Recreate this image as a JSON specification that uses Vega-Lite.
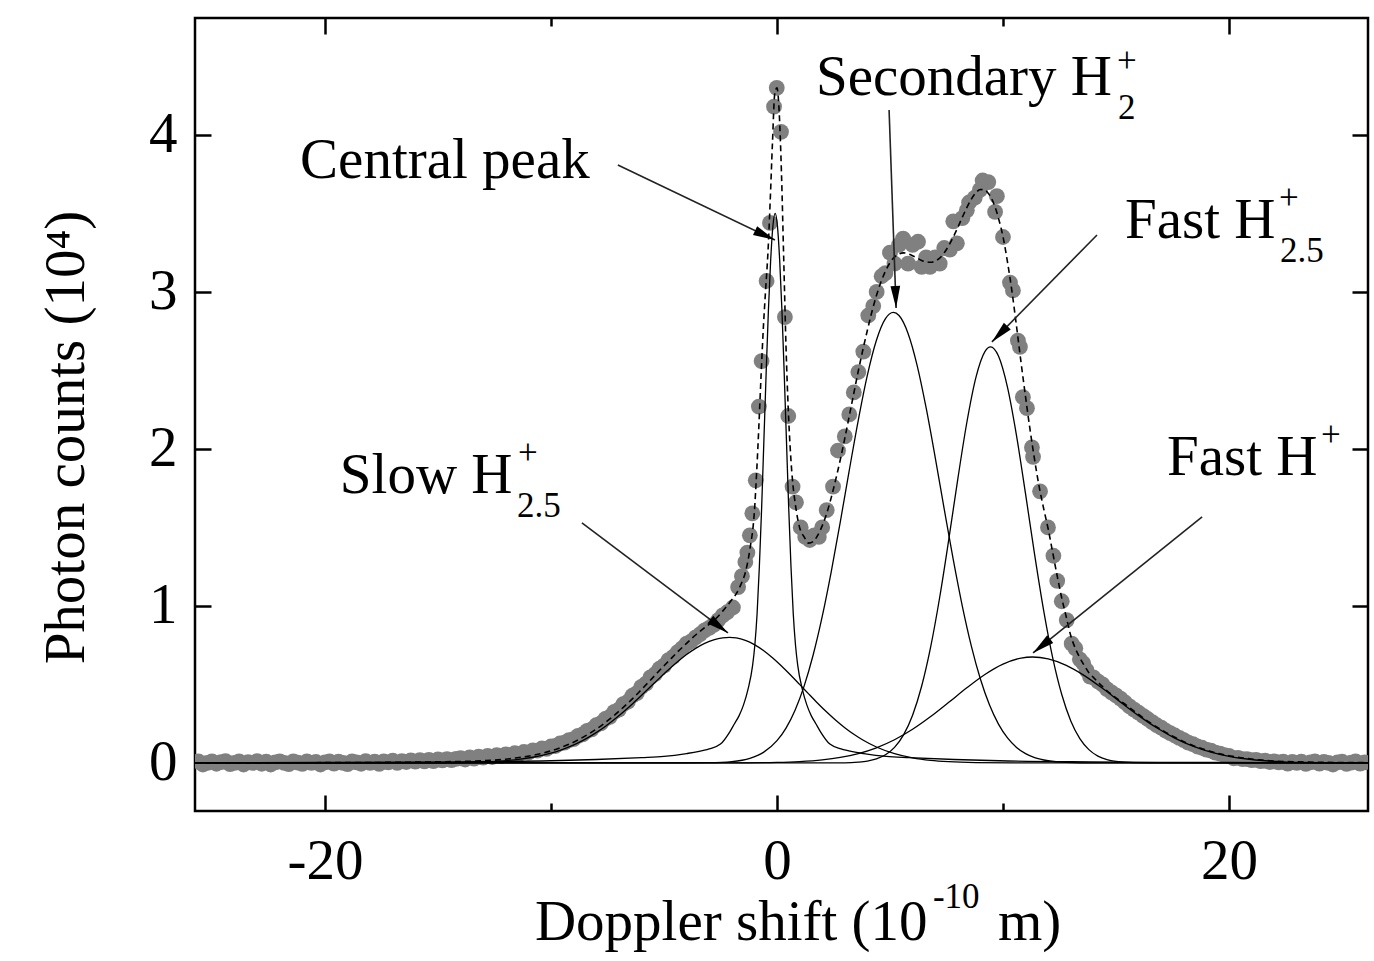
{
  "$schema": "https://vega.github.io/schema/vega-lite/v6.json",
  "width": 1173,
  "height": 793,
  "autosize": {"type": "none"},
  "padding": {"left": 195, "top": 18, "right": 6, "bottom": 150},
  "background": "white",
  "config": {
    "view": {"stroke": "#000", "strokeWidth": 2.5},
    "axis": {
      "domain": false, "grid": false,
      "labelFont": "Liberation Serif", "labelFontSize": 57, "labelColor": "#000",
      "titleFont": "Liberation Serif", "titleFontSize": 57, "titleFontWeight": "normal", "titleColor": "#000",
      "tickColor": "#000", "tickWidth": 2.5
    }
  },
  "datasets": {
    "pts": [
      {"x":-25.6,"y":0.01},{"x":-25.4,"y":-0.01},{"x":-25.2,"y":0.0},{"x":-25.0,"y":0.01},{"x":-24.8,"y":-0.005},{"x":-24.6,"y":0.005},{"x":-24.4,"y":0.012},{"x":-24.2,"y":-0.008},{"x":-24.0,"y":0.0},{"x":-23.8,"y":0.01},{"x":-23.6,"y":-0.01},{"x":-23.4,"y":0.005},{"x":-23.2,"y":0.0},{"x":-23.0,"y":0.012},{"x":-22.8,"y":-0.005},{"x":-22.6,"y":0.008},{"x":-22.4,"y":-0.01},{"x":-22.2,"y":0.004},{"x":-22.0,"y":0.01},{"x":-21.8,"y":0.0},{"x":-21.6,"y":-0.008},{"x":-21.4,"y":0.01},{"x":-21.2,"y":0.002},{"x":-21.0,"y":-0.006},{"x":-20.8,"y":0.01},{"x":-20.6,"y":0.0},{"x":-20.4,"y":0.006},{"x":-20.2,"y":-0.01},{"x":-20.0,"y":0.004},{"x":-19.8,"y":0.01},{"x":-19.6,"y":-0.004},{"x":-19.4,"y":0.008},{"x":-19.2,"y":0.0},{"x":-19.0,"y":-0.008},{"x":-18.8,"y":0.01},{"x":-18.6,"y":0.004},{"x":-18.4,"y":-0.005},{"x":-18.2,"y":0.012},{"x":-18.0,"y":0.0},{"x":-17.8,"y":0.008},{"x":-17.6,"y":-0.006},{"x":-17.4,"y":0.01},{"x":-17.2,"y":0.004},{"x":-17.0,"y":0.014},{"x":-16.8,"y":0.0},{"x":-16.6,"y":0.012},{"x":-16.4,"y":0.006},{"x":-16.2,"y":0.016},{"x":-16.0,"y":0.008},{"x":-15.8,"y":0.018},{"x":-15.6,"y":0.01},{"x":-15.4,"y":0.02},{"x":-15.2,"y":0.012},{"x":-15.0,"y":0.022},{"x":-14.8,"y":0.016},{"x":-14.6,"y":0.024},{"x":-14.4,"y":0.018},{"x":-14.2,"y":0.026},
      {"x":-14.0,"y":0.03},{"x":-13.8,"y":0.022},{"x":-13.6,"y":0.035},{"x":-13.4,"y":0.028},{"x":-13.2,"y":0.04},{"x":-13.0,"y":0.034},{"x":-12.8,"y":0.045},{"x":-12.6,"y":0.038},{"x":-12.4,"y":0.05},{"x":-12.2,"y":0.044},{"x":-12.0,"y":0.055},{"x":-11.8,"y":0.05},{"x":-11.6,"y":0.062},{"x":-11.4,"y":0.058},{"x":-11.2,"y":0.07},{"x":-11.0,"y":0.066},{"x":-10.8,"y":0.08},{"x":-10.6,"y":0.078},{"x":-10.4,"y":0.092},{"x":-10.2,"y":0.09},{"x":-10.0,"y":0.105},{"x":-9.8,"y":0.108},{"x":-9.6,"y":0.124},{"x":-9.4,"y":0.13},{"x":-9.2,"y":0.146},{"x":-9.0,"y":0.152},{"x":-8.8,"y":0.172},{"x":-8.6,"y":0.182},{"x":-8.4,"y":0.204},{"x":-8.2,"y":0.214},{"x":-8.0,"y":0.24},{"x":-7.8,"y":0.252},{"x":-7.6,"y":0.28},{"x":-7.4,"y":0.294},{"x":-7.2,"y":0.325},{"x":-7.0,"y":0.34},{"x":-6.8,"y":0.375},{"x":-6.6,"y":0.39},{"x":-6.4,"y":0.428},{"x":-6.2,"y":0.445},{"x":-6.0,"y":0.485},{"x":-5.8,"y":0.505},{"x":-5.6,"y":0.545},{"x":-5.4,"y":0.565},{"x":-5.2,"y":0.6},{"x":-5.0,"y":0.62},{"x":-4.8,"y":0.655},{"x":-4.6,"y":0.675},{"x":-4.4,"y":0.705},{"x":-4.2,"y":0.73},{"x":-4.0,"y":0.76},{"x":-3.8,"y":0.775},{"x":-3.6,"y":0.8},{"x":-3.4,"y":0.82},{"x":-3.2,"y":0.845},{"x":-3.0,"y":0.86},{"x":-2.8,"y":0.88},{"x":-2.6,"y":0.91},{"x":-2.4,"y":0.94},{"x":-2.2,"y":0.96},{"x":-1.95,"y":0.99},{"x":-1.72,"y":1.12},
      {"x":-1.55,"y":1.19},{"x":-1.4,"y":1.28},{"x":-1.31,"y":1.34},{"x":-1.2,"y":1.45},{"x":-1.09,"y":1.59},{"x":-0.94,"y":1.8},{"x":-0.8,"y":2.27},{"x":-0.68,"y":2.56},{"x":-0.46,"y":3.07},{"x":-0.31,"y":3.44},{"x":-0.13,"y":4.18},{"x":-0.01,"y":4.3},{"x":0.18,"y":4.02},{"x":0.35,"y":2.84},{"x":0.5,"y":2.21},{"x":0.69,"y":1.76},{"x":0.84,"y":1.66},{"x":1.05,"y":1.5},{"x":1.25,"y":1.44},{"x":1.45,"y":1.42},{"x":1.65,"y":1.45},{"x":1.85,"y":1.44},{"x":2.0,"y":1.5},{"x":2.2,"y":1.61},{"x":2.48,"y":1.76},{"x":2.7,"y":1.99},
      {"x":3.0,"y":2.08},{"x":3.2,"y":2.22},{"x":3.4,"y":2.36},{"x":3.6,"y":2.49},{"x":3.82,"y":2.62},{"x":4.04,"y":2.85},{"x":4.26,"y":2.91},{"x":4.41,"y":3.0},{"x":4.63,"y":3.1},{"x":4.8,"y":3.12},{"x":5.0,"y":3.25},{"x":5.2,"y":3.18},{"x":5.4,"y":3.3},{"x":5.58,"y":3.34},{"x":5.8,"y":3.18},{"x":6.0,"y":3.3},{"x":6.24,"y":3.32},{"x":6.4,"y":3.16},{"x":6.6,"y":3.22},{"x":6.77,"y":3.16},{"x":7.0,"y":3.22},{"x":7.2,"y":3.18},{"x":7.4,"y":3.28},{"x":7.65,"y":3.27},{"x":7.8,"y":3.45},{"x":7.96,"y":3.31},{"x":8.2,"y":3.47},{"x":8.4,"y":3.52},{"x":8.5,"y":3.57},{"x":8.75,"y":3.6},{"x":8.98,"y":3.65},{"x":9.1,"y":3.71},{"x":9.35,"y":3.7},{"x":9.65,"y":3.51},{"x":9.73,"y":3.61},{"x":10.0,"y":3.35},{"x":10.31,"y":3.06},{"x":10.44,"y":3.01},{"x":10.66,"y":2.69},{"x":10.75,"y":2.65},{"x":10.88,"y":2.33},{"x":11.06,"y":2.26},{"x":11.28,"y":2.01},{"x":11.33,"y":1.95},{"x":11.64,"y":1.73},{"x":11.99,"y":1.5},{"x":12.23,"y":1.32},
      {"x":12.4,"y":1.16},{"x":12.6,"y":1.03},{"x":12.82,"y":0.91},{"x":13.04,"y":0.76},{"x":13.2,"y":0.73},{"x":13.4,"y":0.66},{"x":13.55,"y":0.635},{"x":13.7,"y":0.59},{"x":13.85,"y":0.55},{"x":14.0,"y":0.545},{"x":14.2,"y":0.52},{"x":14.4,"y":0.5},{"x":14.6,"y":0.47},{"x":14.8,"y":0.45},{"x":15.0,"y":0.43},{"x":15.2,"y":0.41},{"x":15.4,"y":0.385},{"x":15.6,"y":0.36},{"x":15.8,"y":0.34},{"x":16.0,"y":0.32},{"x":16.2,"y":0.3},{"x":16.4,"y":0.28},{"x":16.6,"y":0.26},{"x":16.8,"y":0.24},{"x":17.0,"y":0.225},{"x":17.2,"y":0.205},{"x":17.4,"y":0.19},{"x":17.6,"y":0.175},{"x":17.8,"y":0.16},{"x":18.0,"y":0.146},{"x":18.2,"y":0.13},{"x":18.4,"y":0.12},{"x":18.6,"y":0.105},{"x":18.8,"y":0.097},{"x":19.0,"y":0.085},{"x":19.2,"y":0.078},{"x":19.4,"y":0.066},{"x":19.6,"y":0.06},{"x":19.8,"y":0.05},{"x":20.0,"y":0.045},{"x":20.2,"y":0.03},{"x":20.4,"y":0.032},{"x":20.6,"y":0.024},{"x":20.8,"y":0.025},{"x":21.0,"y":0.018},{"x":21.2,"y":0.02},{"x":21.4,"y":0.012},{"x":21.6,"y":0.014},{"x":21.8,"y":0.006},{"x":22.0,"y":0.01},{"x":22.2,"y":0.004},{"x":22.4,"y":0.008},{"x":22.6,"y":-0.004},{"x":22.8,"y":0.006},{"x":23.0,"y":0.0},{"x":23.2,"y":0.008},{"x":23.4,"y":-0.006},{"x":23.6,"y":0.004},{"x":23.8,"y":0.01},{"x":24.0,"y":-0.004},{"x":24.2,"y":0.006},{"x":24.4,"y":0.0},{"x":24.6,"y":-0.01},{"x":24.8,"y":0.004},{"x":25.0,"y":0.008},{"x":25.2,"y":-0.006},{"x":25.4,"y":0.002},{"x":25.6,"y":0.01},{"x":25.8,"y":-0.004},{"x":26.0,"y":0.004}
    ],
    "fit": [
      {"x":-25.75,"y":0.0},{"x":-20,"y":0.002},{"x":-16,"y":0.005},{"x":-15,"y":0.007},{"x":-14.0,"y":0.0095},{"x":-13.0,"y":0.014},{"x":-12.0,"y":0.024},{"x":-11.6,"y":0.031},{"x":-11.2,"y":0.039},{"x":-10.8,"y":0.049},{"x":-10.4,"y":0.061},{"x":-10.0,"y":0.077},{"x":-9.6,"y":0.097},{"x":-9.2,"y":0.119},{"x":-8.8,"y":0.147},{"x":-8.4,"y":0.179},{"x":-8.0,"y":0.215},{"x":-7.6,"y":0.257},{"x":-7.2,"y":0.303},{"x":-6.8,"y":0.354},{"x":-6.4,"y":0.408},{"x":-6.0,"y":0.467},{"x":-5.6,"y":0.527},{"x":-5.2,"y":0.589},{"x":-4.8,"y":0.648},{"x":-4.4,"y":0.707},{"x":-4.0,"y":0.762},{"x":-3.6,"y":0.815},{"x":-3.2,"y":0.862},{"x":-2.8,"y":0.906},{"x":-2.4,"y":0.967},{"x":-2.0,"y":1.039},{"x":-1.8,"y":1.078},{"x":-1.6,"y":1.136},{"x":-1.4,"y":1.213},{"x":-1.2,"y":1.36},{"x":-1.0,"y":1.6},{"x":-0.9,"y":1.85},{"x":-0.8,"y":2.15},{"x":-0.7,"y":2.48},{"x":-0.6,"y":2.78},{"x":-0.5,"y":3.02},{"x":-0.4,"y":3.25},{"x":-0.3,"y":3.58},{"x":-0.2,"y":3.95},{"x":-0.1,"y":4.26},{"x":0.0,"y":4.3},{"x":0.1,"y":4.14},{"x":0.2,"y":3.75},{"x":0.3,"y":3.2},{"x":0.4,"y":2.65},{"x":0.5,"y":2.25},{"x":0.6,"y":1.97},{"x":0.7,"y":1.78},{"x":0.8,"y":1.66},{"x":1.0,"y":1.5},{"x":1.2,"y":1.44},{"x":1.4,"y":1.4},{"x":1.6,"y":1.41},{"x":1.8,"y":1.45},{"x":2.0,"y":1.51},{"x":2.2,"y":1.59},{"x":2.4,"y":1.69},{"x":2.6,"y":1.806},{"x":2.8,"y":1.931},{"x":3.0,"y":2.067},{"x":3.2,"y":2.211},{"x":3.4,"y":2.355},{"x":3.6,"y":2.498},{"x":3.8,"y":2.632},{"x":4.0,"y":2.756},{"x":4.2,"y":2.874},{"x":4.4,"y":2.977},{"x":4.6,"y":3.063},{"x":4.8,"y":3.133},{"x":5.0,"y":3.186},{"x":5.2,"y":3.222},{"x":5.4,"y":3.242},{"x":5.6,"y":3.249},{"x":5.8,"y":3.243},{"x":6.0,"y":3.231},{"x":6.2,"y":3.216},{"x":6.4,"y":3.201},{"x":6.6,"y":3.192},{"x":6.8,"y":3.189},{"x":7.0,"y":3.197},{"x":7.2,"y":3.216},{"x":7.4,"y":3.25},{"x":7.6,"y":3.295},{"x":7.8,"y":3.35},{"x":8.0,"y":3.411},{"x":8.2,"y":3.476},{"x":8.4,"y":3.537},{"x":8.6,"y":3.591},{"x":8.8,"y":3.632},{"x":9.0,"y":3.653},{"x":9.2,"y":3.649},{"x":9.4,"y":3.618},{"x":9.6,"y":3.56},{"x":9.8,"y":3.47},{"x":10.0,"y":3.352},{"x":10.2,"y":3.19},{"x":10.4,"y":3.0},{"x":10.6,"y":2.78},{"x":10.8,"y":2.55},{"x":11.0,"y":2.33},{"x":11.2,"y":2.12},{"x":11.4,"y":1.93},{"x":11.6,"y":1.76},{"x":11.8,"y":1.62},{"x":12.0,"y":1.49},{"x":12.2,"y":1.34},{"x":12.4,"y":1.19},{"x":12.6,"y":1.05},{"x":12.8,"y":0.93},{"x":13.0,"y":0.81},{"x":13.2,"y":0.73},{"x":13.4,"y":0.67},{"x":13.6,"y":0.62},{"x":13.8,"y":0.575},{"x":14.0,"y":0.545},{"x":14.2,"y":0.515},{"x":14.4,"y":0.487},{"x":14.6,"y":0.46},{"x":14.8,"y":0.437},{"x":15.0,"y":0.415},{"x":15.2,"y":0.395},{"x":15.4,"y":0.374},{"x":15.6,"y":0.352},{"x":15.8,"y":0.33},{"x":16.0,"y":0.309},{"x":16.4,"y":0.266},{"x":16.8,"y":0.229},{"x":17.2,"y":0.195},{"x":17.6,"y":0.164},{"x":18.0,"y":0.135},{"x":18.4,"y":0.111},{"x":18.8,"y":0.091},{"x":19.2,"y":0.073},{"x":19.6,"y":0.058},{"x":20.0,"y":0.046},{"x":20.4,"y":0.036},{"x":20.8,"y":0.028},{"x":21.2,"y":0.022},{"x":21.6,"y":0.016},{"x":22.0,"y":0.012},{"x":23.0,"y":0.007},{"x":24.0,"y":0.004},{"x":26.15,"y":0.002}
    ],
    "comp": [
      {"comp":"central","x":-25.75,"y":0.0015},{"comp":"central","x":-20,"y":0.003},{"comp":"central","x":-14,"y":0.007},{"comp":"central","x":-10,"y":0.014},{"comp":"central","x":-8,"y":0.022},{"comp":"central","x":-6,"y":0.034},{"comp":"central","x":-5,"y":0.042},{"comp":"central","x":-4,"y":0.06},{"comp":"central","x":-3.5,"y":0.072},{"comp":"central","x":-3,"y":0.09},{"comp":"central","x":-2.5,"y":0.12},{"comp":"central","x":-2.08,"y":0.2},{"comp":"central","x":-1.88,"y":0.25},{"comp":"central","x":-1.68,"y":0.3},{"comp":"central","x":-1.48,"y":0.37},{"comp":"central","x":-1.28,"y":0.47},{"comp":"central","x":-1.08,"y":0.62},{"comp":"central","x":-0.98,"y":0.75},{"comp":"central","x":-0.88,"y":0.95},{"comp":"central","x":-0.78,"y":1.25},{"comp":"central","x":-0.68,"y":1.62},{"comp":"central","x":-0.58,"y":2.05},{"comp":"central","x":-0.48,"y":2.48},{"comp":"central","x":-0.38,"y":2.88},{"comp":"central","x":-0.28,"y":3.2},{"comp":"central","x":-0.18,"y":3.42},{"comp":"central","x":-0.08,"y":3.5},{"comp":"central","x":0.02,"y":3.42},{"comp":"central","x":0.12,"y":3.2},{"comp":"central","x":0.22,"y":2.88},{"comp":"central","x":0.32,"y":2.48},{"comp":"central","x":0.42,"y":2.05},{"comp":"central","x":0.52,"y":1.62},{"comp":"central","x":0.62,"y":1.25},{"comp":"central","x":0.72,"y":0.95},{"comp":"central","x":0.82,"y":0.75},{"comp":"central","x":0.92,"y":0.62},{"comp":"central","x":1.12,"y":0.47},{"comp":"central","x":1.32,"y":0.37},{"comp":"central","x":1.52,"y":0.3},{"comp":"central","x":1.72,"y":0.25},{"comp":"central","x":1.92,"y":0.2},{"comp":"central","x":2.34,"y":0.12},{"comp":"central","x":2.84,"y":0.09},{"comp":"central","x":3.34,"y":0.072},{"comp":"central","x":3.84,"y":0.06},{"comp":"central","x":4.84,"y":0.042},{"comp":"central","x":5.84,"y":0.034},{"comp":"central","x":7.84,"y":0.022},{"comp":"central","x":9.84,"y":0.014},{"comp":"central","x":13.84,"y":0.007},{"comp":"central","x":19.84,"y":0.003},{"comp":"central","x":26.15,"y":0.0015},
      {"comp":"slow","x":-25.75,"y":0},{"comp":"slow","x":-18,"y":0},{"comp":"slow","x":-16,"y":0.0003},{"comp":"slow","x":-15,"y":0.0009},{"comp":"slow","x":-14,"y":0.0025},{"comp":"slow","x":-13.2,"y":0.0052},{"comp":"slow","x":-12.4,"y":0.0105},{"comp":"slow","x":-11.6,"y":0.0201},{"comp":"slow","x":-10.8,"y":0.0364},{"comp":"slow","x":-10.0,"y":0.0626},{"comp":"slow","x":-9.6,"y":0.0806},{"comp":"slow","x":-9.2,"y":0.1022},{"comp":"slow","x":-8.8,"y":0.1281},{"comp":"slow","x":-8.4,"y":0.1583},{"comp":"slow","x":-8.0,"y":0.1932},{"comp":"slow","x":-7.6,"y":0.2327},{"comp":"slow","x":-7.2,"y":0.2767},{"comp":"slow","x":-6.8,"y":0.3247},{"comp":"slow","x":-6.4,"y":0.3762},{"comp":"slow","x":-6.0,"y":0.43},{"comp":"slow","x":-5.6,"y":0.4852},{"comp":"slow","x":-5.2,"y":0.5405},{"comp":"slow","x":-4.8,"y":0.5941},{"comp":"slow","x":-4.4,"y":0.6446},{"comp":"slow","x":-4.0,"y":0.6904},{"comp":"slow","x":-3.6,"y":0.7298},{"comp":"slow","x":-3.2,"y":0.7614},{"comp":"slow","x":-2.8,"y":0.7842},{"comp":"slow","x":-2.4,"y":0.7971},{"comp":"slow","x":-2.1,"y":0.8},{"comp":"slow","x":-1.8,"y":0.7965},{"comp":"slow","x":-1.4,"y":0.7811},{"comp":"slow","x":-1.0,"y":0.7541},{"comp":"slow","x":-0.6,"y":0.7168},{"comp":"slow","x":-0.2,"y":0.6707},{"comp":"slow","x":0.2,"y":0.6179},{"comp":"slow","x":0.6,"y":0.5604},{"comp":"slow","x":1.0,"y":0.5004},{"comp":"slow","x":1.4,"y":0.4399},{"comp":"slow","x":1.8,"y":0.3806},{"comp":"slow","x":2.2,"y":0.3243},{"comp":"slow","x":2.6,"y":0.2721},{"comp":"slow","x":3.0,"y":0.2247},{"comp":"slow","x":3.4,"y":0.1827},{"comp":"slow","x":3.8,"y":0.1462},{"comp":"slow","x":4.4,"y":0.1017},{"comp":"slow","x":5.2,"y":0.0593},{"comp":"slow","x":6.0,"y":0.0325},{"comp":"slow","x":6.8,"y":0.0167},{"comp":"slow","x":7.6,"y":0.0081},{"comp":"slow","x":8.8,"y":0.0024},{"comp":"slow","x":10.4,"y":0.0004},{"comp":"slow","x":26.15,"y":0},
      {"comp":"secondary","x":-25.75,"y":0},{"comp":"secondary","x":-4,"y":0.0002},{"comp":"secondary","x":-3,"y":0.0015},{"comp":"secondary","x":-2,"y":0.0088},{"comp":"secondary","x":-1.2,"y":0.0297},{"comp":"secondary","x":-0.6,"y":0.0675},{"comp":"secondary","x":0.0,"y":0.1419},{"comp":"secondary","x":0.4,"y":0.2223},{"comp":"secondary","x":0.8,"y":0.336},{"comp":"secondary","x":1.2,"y":0.4894},{"comp":"secondary","x":1.6,"y":0.6877},{"comp":"secondary","x":2.0,"y":0.9319},{"comp":"secondary","x":2.4,"y":1.2177},{"comp":"secondary","x":2.8,"y":1.5346},{"comp":"secondary","x":3.2,"y":1.8649},{"comp":"secondary","x":3.6,"y":2.1858},{"comp":"secondary","x":4.0,"y":2.4705},{"comp":"secondary","x":4.4,"y":2.6926},{"comp":"secondary","x":4.8,"y":2.8304},{"comp":"secondary","x":5.15,"y":2.87},{"comp":"secondary","x":5.4,"y":2.8497},{"comp":"secondary","x":5.8,"y":2.7357},{"comp":"secondary","x":6.2,"y":2.5328},{"comp":"secondary","x":6.6,"y":2.2613},{"comp":"secondary","x":7.0,"y":1.947},{"comp":"secondary","x":7.4,"y":1.6167},{"comp":"secondary","x":7.8,"y":1.2947},{"comp":"secondary","x":8.2,"y":0.9996},{"comp":"secondary","x":8.6,"y":0.7445},{"comp":"secondary","x":9.0,"y":0.5347},{"comp":"secondary","x":9.4,"y":0.3702},{"comp":"secondary","x":9.8,"y":0.2474},{"comp":"secondary","x":10.2,"y":0.1593},{"comp":"secondary","x":10.6,"y":0.099},{"comp":"secondary","x":11.0,"y":0.0594},{"comp":"secondary","x":11.4,"y":0.0342},{"comp":"secondary","x":12.0,"y":0.0141},{"comp":"secondary","x":12.8,"y":0.0038},{"comp":"secondary","x":14,"y":0.0003},{"comp":"secondary","x":26.15,"y":0},
      {"comp":"fast25","x":-25.75,"y":0},{"comp":"fast25","x":3.0,"y":0.001},{"comp":"fast25","x":3.6,"y":0.0053},{"comp":"fast25","x":4.0,"y":0.012},{"comp":"fast25","x":4.4,"y":0.0257},{"comp":"fast25","x":4.8,"y":0.052},{"comp":"fast25","x":5.2,"y":0.0993},{"comp":"fast25","x":5.6,"y":0.1789},{"comp":"fast25","x":6.0,"y":0.3045},{"comp":"fast25","x":6.4,"y":0.4884},{"comp":"fast25","x":6.8,"y":0.7391},{"comp":"fast25","x":7.2,"y":1.0555},{"comp":"fast25","x":7.6,"y":1.4223},{"comp":"fast25","x":8.0,"y":1.8081},{"comp":"fast25","x":8.4,"y":2.1685},{"comp":"fast25","x":8.8,"y":2.4542},{"comp":"fast25","x":9.2,"y":2.6201},{"comp":"fast25","x":9.45,"y":2.65},{"comp":"fast25","x":9.8,"y":2.5917},{"comp":"fast25","x":10.2,"y":2.3924},{"comp":"fast25","x":10.6,"y":2.0837},{"comp":"fast25","x":11.0,"y":1.7122},{"comp":"fast25","x":11.4,"y":1.3274},{"comp":"fast25","x":11.8,"y":0.971},{"comp":"fast25","x":12.2,"y":0.6699},{"comp":"fast25","x":12.6,"y":0.4362},{"comp":"fast25","x":13.0,"y":0.2679},{"comp":"fast25","x":13.4,"y":0.1553},{"comp":"fast25","x":13.8,"y":0.0851},{"comp":"fast25","x":14.2,"y":0.0438},{"comp":"fast25","x":14.6,"y":0.0213},{"comp":"fast25","x":15.0,"y":0.0098},{"comp":"fast25","x":15.8,"y":0.0017},{"comp":"fast25","x":17,"y":0},{"comp":"fast25","x":26.15,"y":0},
      {"comp":"fastH","x":-25.75,"y":0},{"comp":"fastH","x":-2,"y":0.0005},{"comp":"fastH","x":0.0,"y":0.0037},{"comp":"fastH","x":1.0,"y":0.0089},{"comp":"fastH","x":2.0,"y":0.0198},{"comp":"fastH","x":2.8,"y":0.0354},{"comp":"fastH","x":3.6,"y":0.06},{"comp":"fastH","x":4.4,"y":0.0967},{"comp":"fastH","x":5.2,"y":0.1478},{"comp":"fastH","x":6.0,"y":0.2144},{"comp":"fastH","x":6.8,"y":0.2954},{"comp":"fastH","x":7.6,"y":0.386},{"comp":"fastH","x":8.4,"y":0.4788},{"comp":"fastH","x":9.2,"y":0.5638},{"comp":"fastH","x":10.0,"y":0.63},{"comp":"fastH","x":10.8,"y":0.6682},{"comp":"fastH","x":11.3,"y":0.675},{"comp":"fastH","x":12.0,"y":0.6631},{"comp":"fastH","x":12.8,"y":0.6218},{"comp":"fastH","x":13.6,"y":0.5565},{"comp":"fastH","x":14.4,"y":0.4753},{"comp":"fastH","x":15.2,"y":0.3875},{"comp":"fastH","x":16.0,"y":0.3015},{"comp":"fastH","x":16.8,"y":0.2238},{"comp":"fastH","x":17.6,"y":0.1586},{"comp":"fastH","x":18.4,"y":0.1073},{"comp":"fastH","x":19.2,"y":0.0692},{"comp":"fastH","x":20.0,"y":0.0426},{"comp":"fastH","x":20.8,"y":0.0251},{"comp":"fastH","x":21.6,"y":0.014},{"comp":"fastH","x":22.4,"y":0.0075},{"comp":"fastH","x":23.2,"y":0.0038},{"comp":"fastH","x":24,"y":0.0019},{"comp":"fastH","x":26.15,"y":0.0003}
    ],
    "arrows": [
      {"x":-7.04,"y":3.809,"x2":-0.09,"y2":3.331,"ang":115.5},
      {"x":4.96,"y":4.159,"x2":5.27,"y2":2.898,"ang":178},
      {"x":14.16,"y":3.363,"x2":9.51,"y2":2.682,"ang":224.5},
      {"x":18.81,"y":1.567,"x2":11.33,"y2":0.701,"ang":231.2},
      {"x":-8.63,"y":1.529,"x2":-2.17,"y2":0.828,"ang":127}
    ],
    "labels": [
      {"text":"Central peak","x":-21.1,"y":3.726,"role":"main"},
      {"text":"Secondary H","x":1.726,"y":4.255,"role":"main"},
      {"text":"Fast H","x":15.4,"y":3.344,"role":"main"},
      {"text":"Fast H","x":17.26,"y":1.834,"role":"main"},
      {"text":"Slow H","x":-19.34,"y":1.72,"role":"main"},
      {"text":"Doppler shift (10","x":-10.71,"y":-1.127,"role":"main"},
      {"text":"m)","x":9.78,"y":-1.127,"role":"main"},
      {"text":"-10","x":6.9,"y":-0.924,"role":"small"},
      {"text":"+","x":15.04,"y":4.401,"role":"small"},
      {"text":"2","x":15.09,"y":4.102,"role":"small"},
      {"text":"+","x":22.21,"y":3.529,"role":"small"},
      {"text":"2.5","x":22.26,"y":3.191,"role":"small"},
      {"text":"+","x":24.07,"y":2.019,"role":"small"},
      {"text":"+","x":-11.46,"y":1.904,"role":"small"},
      {"text":"2.5","x":-11.5,"y":1.567,"role":"small"}
    ]
  },
  "resolve": {"axis": {"x": "independent", "y": "independent"}},
  "layer": [
    {
      "data": {"name": "pts"},
      "mark": {"type": "point", "filled": true, "shape": "circle", "size": 250, "color": "#808080", "opacity": 1, "clip": true},
      "encoding": {
        "x": {"field": "x", "type": "quantitative", "scale": {"domain": [-25.75, 26.15], "nice": false, "zero": false},
          "axis": {"orient": "bottom", "values": [-20, 0, 20], "tickSize": -16, "labelPadding": 83, "labelBaseline": "alphabetic",
            "labelExpr": "replace(datum.label, '−', '-')", "title": null}},
        "y": {"field": "y", "type": "quantitative", "scale": {"domain": [-0.306, 4.745], "nice": false, "zero": false},
          "axis": {"orient": "left", "values": [0, 1, 2, 3, 4], "tickSize": -16, "labelPadding": 34,
            "title": "Photon counts (10⁴)", "titleX": -112, "titleY": 419, "titleAngle": -90, "titleBaseline": "alphabetic", "titleAlign": "center"}}
      }
    },
    {
      "data": {"name": "comp"},
      "mark": {"type": "line", "color": "#000", "strokeWidth": 1.3, "interpolate": "monotone", "clip": true},
      "encoding": {
        "detail": {"field": "comp"},
        "x": {"field": "x", "type": "quantitative", "scale": {"domain": [-25.75, 26.15], "nice": false, "zero": false},
          "axis": {"orient": "bottom", "values": [-10, 10], "tickSize": -8, "labels": false, "title": null}},
        "y": {"field": "y", "type": "quantitative", "scale": {"domain": [-0.306, 4.745], "nice": false, "zero": false},
          "axis": {"orient": "right", "values": [0, 1, 2, 3, 4], "tickSize": -16, "labels": false, "title": null}}
      }
    },
    {
      "data": {"name": "fit"},
      "mark": {"type": "line", "color": "#000", "strokeWidth": 1.6, "strokeDash": [6, 4], "interpolate": "monotone", "clip": true},
      "encoding": {
        "x": {"field": "x", "type": "quantitative", "scale": {"domain": [-25.75, 26.15], "nice": false, "zero": false},
          "axis": {"orient": "top", "values": [-20, 0, 20], "tickSize": -16, "labels": false, "title": null}},
        "y": {"field": "y", "type": "quantitative", "scale": {"domain": [-0.306, 4.745], "nice": false, "zero": false}, "axis": null}
      }
    },
    {
      "data": {"name": "arrows"},
      "mark": {"type": "rule", "color": "#222", "strokeWidth": 1.6},
      "encoding": {
        "x": {"field": "x", "type": "quantitative", "scale": {"domain": [-25.75, 26.15], "nice": false, "zero": false},
          "axis": {"orient": "top", "values": [-10, 10], "tickSize": -8, "labels": false, "title": null}},
        "y": {"field": "y", "type": "quantitative", "scale": {"domain": [-0.306, 4.745], "nice": false, "zero": false}, "axis": null},
        "x2": {"field": "x2"},
        "y2": {"field": "y2"}
      }
    },
    {
      "data": {"name": "arrows"},
      "mark": {"type": "point", "filled": true, "shape": "M0,0L-0.22,1L0.22,1Z", "size": 1936, "color": "#000", "opacity": 1},
      "encoding": {
        "x": {"field": "x2", "type": "quantitative", "scale": {"domain": [-25.75, 26.15], "nice": false, "zero": false}, "axis": null},
        "y": {"field": "y2", "type": "quantitative", "scale": {"domain": [-0.306, 4.745], "nice": false, "zero": false}, "axis": null},
        "angle": {"field": "ang", "type": "quantitative", "scale": null}
      }
    },
    {
      "data": {"name": "labels"},
      "transform": [{"filter": "datum.role === 'main'"}],
      "mark": {"type": "text", "font": "Liberation Serif", "fontSize": 57, "color": "#000", "align": "left", "baseline": "alphabetic"},
      "encoding": {
        "x": {"field": "x", "type": "quantitative", "scale": {"domain": [-25.75, 26.15], "nice": false, "zero": false}, "axis": null},
        "y": {"field": "y", "type": "quantitative", "scale": {"domain": [-0.306, 4.745], "nice": false, "zero": false}, "axis": null},
        "text": {"field": "text"}
      }
    },
    {
      "data": {"name": "labels"},
      "transform": [{"filter": "datum.role === 'small'"}],
      "mark": {"type": "text", "font": "Liberation Serif", "fontSize": 35, "color": "#000", "align": "left", "baseline": "alphabetic"},
      "encoding": {
        "x": {"field": "x", "type": "quantitative", "scale": {"domain": [-25.75, 26.15], "nice": false, "zero": false}, "axis": null},
        "y": {"field": "y", "type": "quantitative", "scale": {"domain": [-0.306, 4.745], "nice": false, "zero": false}, "axis": null},
        "text": {"field": "text"}
      }
    }
  ]
}
